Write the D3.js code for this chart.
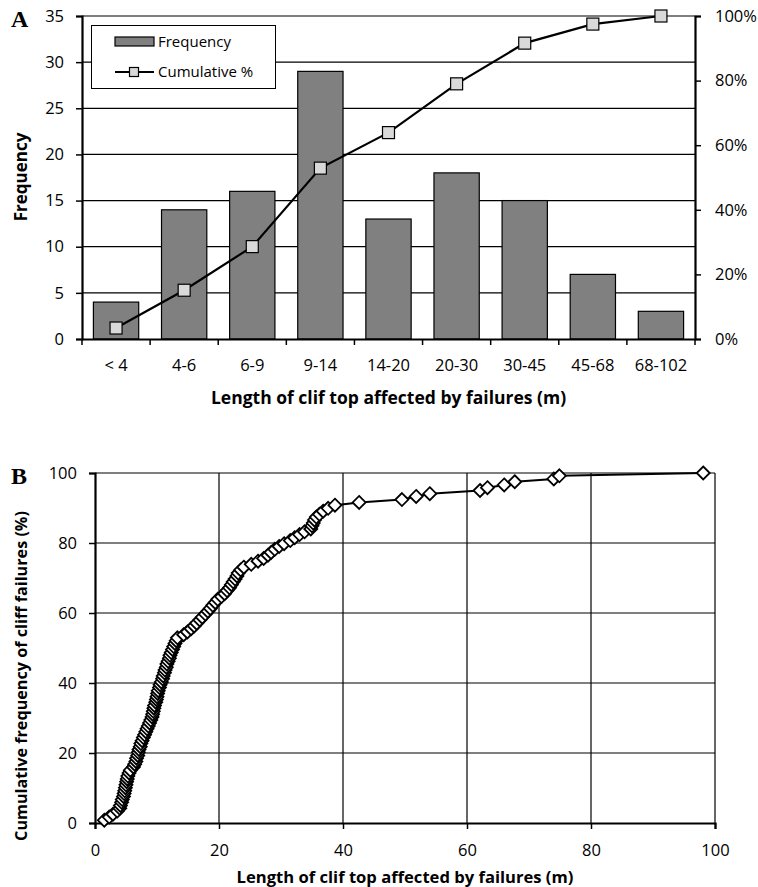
<!DOCTYPE html>
<html>
<head>
<meta charset="utf-8">
<script src="https://cdn.jsdelivr.net/npm/d3@7"></script>
<style>
  html, body { margin: 0; padding: 0; background: #fff; }
  svg { display: block; }
  text { font-family: "Open Sans", sans-serif; fill: #000; }
</style>
</head>
<body>
<svg id="chart" width="758" height="887"></svg>
<script>
// ---------- Panel A data ----------
const categories = ["< 4", "4-6", "6-9", "9-14", "14-20", "20-30", "30-45", "45-68", "68-102"];
const frequency = [4, 14, 16, 29, 13, 18, 15, 7, 3];
const cumulativePct = [3.4, 15.1, 28.6, 52.9, 63.9, 79.0, 91.6, 97.5, 100];
const freqTicks = [0, 5, 10, 15, 20, 25, 30, 35];
const pctTicks = [0, 20, 40, 60, 80, 100];

// ---------- Panel B data ----------
const failureLength = [
  1.5, 2.3, 2.9, 3.6,
  4.0, 4.1, 4.3, 4.4, 4.6, 4.7, 4.8, 4.9, 5.0, 5.1, 5.2, 5.3, 5.5, 5.7,
  6.2, 6.4, 6.6, 6.7, 6.9, 7.0, 7.1, 7.3, 7.4, 7.6, 7.8, 8.0, 8.2, 8.4, 8.6, 8.8,
  9.0, 9.2, 9.3, 9.4, 9.5, 9.6, 9.8, 9.9, 10.0, 10.1, 10.2, 10.4, 10.5, 10.7, 10.9,
  11.0, 11.2, 11.3, 11.5, 11.6, 11.8, 12.0, 12.1, 12.3, 12.5, 12.7, 12.9, 13.1, 13.3,
  14.3, 14.9, 15.5, 16.0, 16.4, 16.9, 17.3, 17.8, 18.2, 18.6, 19.0, 19.4, 19.8,
  20.4, 20.9, 21.3, 21.7, 22.0, 22.3, 22.6, 22.9, 23.1, 23.5, 24.0, 25.2, 26.3, 27.2, 27.9, 28.4, 29.0, 29.7,
  30.5, 31.5, 32.2, 33.0, 33.8, 34.8, 35.0, 35.2, 35.4, 35.7, 36.2, 36.8, 37.6, 38.7, 42.6,
  49.5, 51.8, 54.0, 62.1, 63.3, 66.0, 67.7,
  74.0, 74.9, 98.1
];
const cumulativeFreq = [
  0.8, 1.7, 2.5, 3.4, 4.2, 5.0, 5.9, 6.7, 7.6, 8.4,
  9.2, 10.1, 10.9, 11.8, 12.6, 13.4, 14.3, 15.1, 16.0, 16.8,
  17.6, 18.5, 19.3, 20.2, 21.0, 21.8, 22.7, 23.5, 24.4, 25.2,
  26.1, 26.9, 27.7, 28.6, 29.4, 30.3, 31.1, 31.9, 32.8, 33.6,
  34.5, 35.3, 36.1, 37.0, 37.8, 38.7, 39.5, 40.3, 41.2, 42.0,
  42.9, 43.7, 44.5, 45.4, 46.2, 47.1, 47.9, 48.7, 49.6, 50.4,
  51.3, 52.1, 52.9, 53.8, 54.6, 55.5, 56.3, 57.1, 58.0, 58.8,
  59.7, 60.5, 61.3, 62.2, 63.0, 63.9, 64.7, 65.5, 66.4, 67.2,
  68.1, 68.9, 69.7, 70.6, 71.4, 72.3, 73.1, 73.9, 74.8, 75.6,
  76.5, 77.3, 78.2, 79.0, 79.8, 80.7, 81.5, 82.4, 83.2, 84.0,
  84.9, 85.7, 86.6, 87.4, 88.2, 89.1, 89.9, 90.8, 91.6, 92.4,
  93.3, 94.1, 95.0, 95.8, 96.6, 97.5, 98.3, 99.2, 100.0
];
const xTicksB = [0, 20, 40, 60, 80, 100];
const yTicksB = [0, 20, 40, 60, 80, 100];

const TICK_FONT = "16.5px";
const svg = d3.select("#chart");

// =============== PANEL A ===============
(function () {
  const L = 82, R = 695, T = 16, B = 339;
  const x = d3.scaleBand().domain(categories).range([L, R]).paddingInner(0.335).paddingOuter(0.1675);
  const yL = d3.scaleLinear().domain([0, 35]).range([B, T]);
  const yR = d3.scaleLinear().domain([0, 100]).range([B, T]);
  const g = svg.append("g");

  // gridlines
  g.append("g").selectAll("line").data(freqTicks.filter(d => d > 0)).join("line")
    .attr("x1", L).attr("x2", R).attr("y1", d => yL(d)).attr("y2", d => yL(d))
    .attr("stroke", "#000").attr("stroke-width", 1.2);

  // bars
  g.append("g").selectAll("rect").data(frequency).join("rect")
    .attr("x", (d, i) => x(categories[i]))
    .attr("y", d => yL(d))
    .attr("width", x.bandwidth())
    .attr("height", d => yL(0) - yL(d))
    .attr("fill", "#808080").attr("stroke", "#000").attr("stroke-width", 1.2);

  // left axis
  const axL = g.append("g").attr("transform", `translate(${L},0)`)
    .call(d3.axisLeft(yL).tickValues(freqTicks).tickSize(6).tickPadding(12));
  axL.select(".domain").attr("stroke-width", 2.2);
  axL.selectAll(".tick line").attr("stroke-width", 1.5);
  axL.selectAll("text").style("font-size", TICK_FONT);

  // right axis
  const axR = g.append("g").attr("transform", `translate(${R},0)`)
    .call(d3.axisRight(yR).tickValues(pctTicks).tickSize(6).tickPadding(14).tickFormat(d => d + "%"));
  axR.select(".domain").attr("stroke-width", 2.2);
  axR.selectAll(".tick line").attr("stroke-width", 1.5);
  axR.selectAll("text").style("font-size", TICK_FONT);

  // bottom axis (labels at band centres, ticks at band boundaries)
  const axB = g.append("g").attr("transform", `translate(0,${B})`)
    .call(d3.axisBottom(x).tickSize(0));
  axB.select(".domain").attr("stroke-width", 2.2);
  axB.selectAll("text").attr("y", 26).attr("dy", "0.35em").style("font-size", TICK_FONT);
  const bounds = d3.range(categories.length + 1).map(i => x.range()[0] + i * x.step());
  g.append("g").selectAll("line").data(bounds).join("line")
    .attr("x1", d => d).attr("x2", d => d).attr("y1", B).attr("y2", B + 6)
    .attr("stroke", "#000").attr("stroke-width", 1.5);

  // cumulative line
  const cx = (d, i) => x(categories[i]) + x.bandwidth() / 2;
  g.append("path").datum(cumulativePct)
    .attr("d", d3.line().x(cx).y(d => yR(d)))
    .attr("fill", "none").attr("stroke", "#000").attr("stroke-width", 2.2);
  g.append("g").selectAll("rect").data(cumulativePct).join("rect")
    .attr("x", (d, i) => cx(d, i) - 6).attr("y", d => yR(d) - 6)
    .attr("width", 12).attr("height", 12)
    .attr("fill", "#d9d9d9").attr("stroke", "#000").attr("stroke-width", 1.2);

  // legend
  const lg = g.append("g");
  lg.append("rect").attr("x", 91.5).attr("y", 25.5).attr("width", 184).attr("height", 63)
    .attr("fill", "#fff").attr("stroke", "#000").attr("stroke-width", 1);
  lg.append("rect").attr("x", 115).attr("y", 37).attr("width", 39).attr("height", 9)
    .attr("fill", "#808080").attr("stroke", "#000").attr("stroke-width", 1.2);
  lg.append("text").attr("x", 158).attr("y", 42).attr("dy", "0.35em").style("font-size", "15px").text("Frequency");
  lg.append("line").attr("x1", 115).attr("x2", 154).attr("y1", 72).attr("y2", 72)
    .attr("stroke", "#000").attr("stroke-width", 2.2);
  lg.append("rect").attr("x", 129.5).attr("y", 67.5).attr("width", 9).attr("height", 9)
    .attr("fill", "#d9d9d9").attr("stroke", "#000").attr("stroke-width", 1.2);
  lg.append("text").attr("x", 158).attr("y", 72).attr("dy", "0.35em").style("font-size", "15px").text("Cumulative %");

  // titles
  g.append("text").attr("transform", `translate(21,177) rotate(-90)`)
    .attr("text-anchor", "middle").attr("dy", "0.35em")
    .style("font-size", "17px").style("font-weight", "bold").text("Frequency");
  g.append("text").attr("x", (L + R) / 2).attr("y", 398).attr("dy", "0.35em")
    .attr("text-anchor", "middle").style("font-size", "17.5px").style("font-weight", "bold")
    .text("Length of clif top affected by failures (m)");
  g.append("text").attr("x", 11).attr("y", 27)
    .style("font-family", "'Liberation Serif', 'DejaVu Serif', serif")
    .style("font-size", "24px").style("font-weight", "bold").text("A");
})();

// =============== PANEL B ===============
(function () {
  const L = 95, R = 715, T = 473, B = 823;
  const x = d3.scaleLinear().domain([0, 100]).range([L, R]);
  const y = d3.scaleLinear().domain([0, 100]).range([B, T]);
  const g = svg.append("g");

  // gridlines
  g.append("g").selectAll("line").data(yTicksB.filter(d => d > 0)).join("line")
    .attr("x1", L).attr("x2", R).attr("y1", d => y(d)).attr("y2", d => y(d))
    .attr("stroke", "#000").attr("stroke-width", 1.2);
  g.append("g").selectAll("line").data(xTicksB.filter(d => d > 0)).join("line")
    .attr("x1", d => x(d)).attr("x2", d => x(d)).attr("y1", T).attr("y2", B)
    .attr("stroke", "#000").attr("stroke-width", 1.2);

  const axL = g.append("g").attr("transform", `translate(${L},0)`)
    .call(d3.axisLeft(y).tickValues(yTicksB).tickSize(6).tickPadding(12));
  axL.select(".domain").attr("stroke-width", 2.2);
  axL.selectAll(".tick line").attr("stroke-width", 1.5);
  axL.selectAll("text").style("font-size", TICK_FONT);

  const axB = g.append("g").attr("transform", `translate(0,${B})`)
    .call(d3.axisBottom(x).tickValues(xTicksB).tickSize(6));
  axB.select(".domain").attr("stroke-width", 2.2);
  axB.selectAll(".tick line").attr("stroke-width", 1.5);
  axB.selectAll("text").attr("y", 27).attr("dy", "0.35em").style("font-size", TICK_FONT);

  const pts = failureLength.map((d, i) => [d, cumulativeFreq[i]]);
  g.append("path").datum(pts)
    .attr("d", d3.line().x(d => x(d[0])).y(d => y(d[1])))
    .attr("fill", "none").attr("stroke", "#000").attr("stroke-width", 2);
  const s = 6.5;
  g.append("g").selectAll("path").data(pts).join("path")
    .attr("d", d => {
      const px = x(d[0]), py = y(d[1]);
      return `M${px},${py - s}L${px + s},${py}L${px},${py + s}L${px - s},${py}Z`;
    })
    .attr("fill", "#fff").attr("stroke", "#000").attr("stroke-width", 1.8);

  g.append("text").attr("transform", `translate(21,676) rotate(-90)`)
    .attr("text-anchor", "middle").attr("dy", "0.35em")
    .style("font-size", "16.2px").style("font-weight", "bold")
    .text("Cumulative frequency of cliff failures (%)");
  g.append("text").attr("x", (L + R) / 2).attr("y", 877).attr("dy", "0.35em")
    .attr("text-anchor", "middle").style("font-size", "16.6px").style("font-weight", "bold")
    .text("Length of clif top affected by failures (m)");
  g.append("text").attr("x", 11).attr("y", 484)
    .style("font-family", "'Liberation Serif', 'DejaVu Serif', serif")
    .style("font-size", "24px").style("font-weight", "bold").text("B");
})();
</script>
</body>
</html>
